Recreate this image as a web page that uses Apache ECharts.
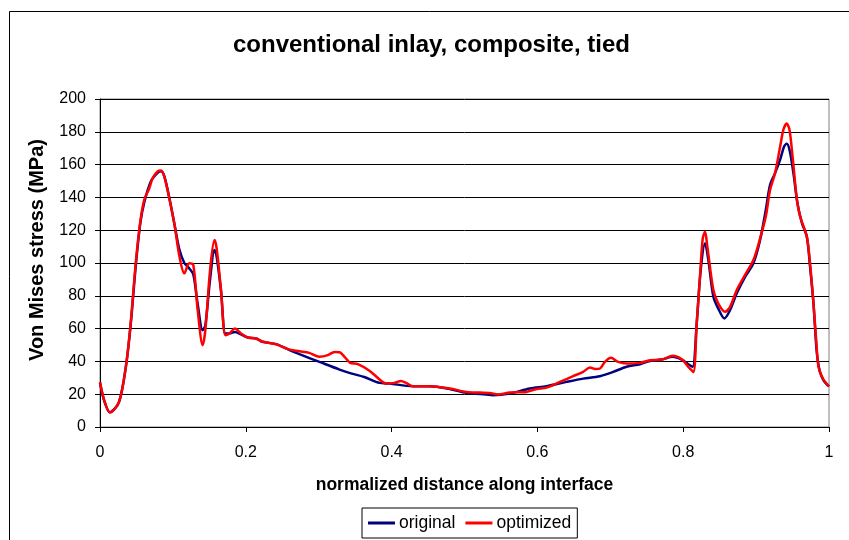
<!DOCTYPE html>
<html>
<head>
<meta charset="utf-8">
<script src="https://cdn.jsdelivr.net/npm/echarts@6/dist/echarts.min.js"></script>
<style>
  html, body { margin: 0; padding: 0; background: #fff; }
  #main { width: 849px; height: 540px; }
</style>
</head>
<body>
<div id="main"></div>
<script>
// data
var origDist = [0, 0.0058, 0.0136, 0.026, 0.0355, 0.042, 0.049, 0.0552, 0.0607, 0.07, 0.079, 0.0836, 0.0882, 0.095, 0.102, 0.109, 0.1157, 0.1225, 0.128, 0.134, 0.1408, 0.1445, 0.151, 0.157, 0.160, 0.166, 0.172, 0.1775, 0.185, 0.1935, 0.2026, 0.214, 0.223, 0.2416, 0.26, 0.2736, 0.301, 0.3286, 0.342, 0.3626, 0.3835, 0.397, 0.429, 0.452, 0.4797, 0.5026, 0.53, 0.539, 0.562, 0.5896, 0.6125, 0.64, 0.6628, 0.6857, 0.704, 0.7224, 0.7407, 0.7544, 0.7704, 0.7856, 0.798, 0.807, 0.8129, 0.8185, 0.824, 0.83, 0.8345, 0.8414, 0.848, 0.8565, 0.8643, 0.8735, 0.8849, 0.8963, 0.9055, 0.9133, 0.9192, 0.926, 0.933, 0.9384, 0.942, 0.9458, 0.9512, 0.9567, 0.963, 0.9696, 0.974, 0.9787, 0.983, 0.987, 0.9925, 1.0];
var origStress = [27, 16, 9, 15, 37, 62, 98, 124, 137, 150, 155, 156, 153, 140, 124, 108, 100, 96.7, 93, 75, 59, 62, 90, 108, 104, 83, 57, 57, 58, 56.5, 54.6, 54, 52, 50.5, 46.9, 44.4, 39.7, 35, 33, 30.5, 26.9, 26.5, 24.9, 24.9, 23.2, 20.8, 19.8, 19.4, 20.4, 23.5, 24.9, 27.5, 29.5, 31, 33.6, 36.7, 38.3, 40.3, 41.1, 42.8, 41.1, 38.3, 36.7, 63, 95.7, 112, 101.8, 79.4, 72.3, 66.2, 71.3, 81.5, 91.6, 99.8, 114, 132.4, 147.7, 154.8, 163, 171, 172.7, 169, 154.8, 136.5, 124.2, 116, 97.8, 75.4, 46.8, 34.6, 28.5, 24.8];

var optDist = [0, 0.0058, 0.0136, 0.026, 0.0355, 0.042, 0.049, 0.0552, 0.0607, 0.0676, 0.0722, 0.079, 0.0836, 0.0882, 0.095, 0.102, 0.109, 0.1157, 0.1225, 0.128, 0.134, 0.1408, 0.1445, 0.151, 0.157, 0.160, 0.166, 0.172, 0.1775, 0.185, 0.1935, 0.2026, 0.214, 0.223, 0.2416, 0.2576, 0.2736, 0.287, 0.301, 0.3125, 0.3217, 0.3286, 0.3354, 0.3432, 0.3537, 0.37, 0.3835, 0.3927, 0.404, 0.413, 0.42, 0.429, 0.452, 0.4797, 0.5026, 0.521, 0.5346, 0.546, 0.562, 0.585, 0.5988, 0.6125, 0.6308, 0.649, 0.6628, 0.672, 0.679, 0.6857, 0.6926, 0.7008, 0.7108, 0.7224, 0.7407, 0.7544, 0.7704, 0.7856, 0.798, 0.807, 0.8139, 0.8185, 0.823, 0.8268, 0.83, 0.8331, 0.8414, 0.848, 0.8574, 0.8643, 0.8735, 0.8849, 0.8963, 0.9055, 0.9133, 0.9192, 0.926, 0.933, 0.9375, 0.942, 0.9458, 0.950, 0.956, 0.9604, 0.9696, 0.974, 0.9787, 0.9824, 0.9856, 0.9916, 1.0];
var optStress = [27.5, 16.3, 8.8, 15.3, 36.7, 63, 100, 125, 138.5, 145.6, 151.7, 155.8, 156.4, 152.7, 139.5, 124, 103.9, 93.7, 99.8, 98.8, 71.3, 49.9, 59, 95.7, 114, 109, 83.5, 56, 57, 60, 57, 54.6, 54, 52, 50.5, 47.5, 46.2, 45.2, 42.8, 43.8, 45.8, 45.6, 42.8, 39.1, 38.3, 34.2, 29, 26.5, 26.9, 28.1, 26.9, 24.9, 24.9, 23.5, 21.4, 21, 20.8, 19.8, 21, 21.4, 23.2, 24, 27.5, 31, 33.6, 36.3, 35.4, 35.6, 39.7, 42.2, 39.7, 38.7, 39.1, 40.7, 41.1, 43.4, 41.3, 36.7, 33.6, 63, 91.6, 115, 119, 110, 83.5, 75.4, 70.3, 73.3, 83.5, 92.7, 101.8, 115, 128.3, 144.6, 154.8, 171, 181.3, 185, 181.3, 165, 138.5, 128.3, 116, 99.8, 75.4, 53, 36.7, 29.5, 24.8];

var seriesNames = ['original', 'optimized'];
var seriesColors = ['#000080', '#ff0000'];

function pairs(xs, ys) {
  var out = [];
  for (var i = 0; i < xs.length; i++) out.push([xs[i], ys[i]]);
  return out;
}

var chart = echarts.init(document.getElementById('main'));
var font = 'Liberation Sans, Arial, sans-serif';

var option = {
  backgroundColor: '#fff',
  animation: false,
  title: {
    text: 'conventional inlay, composite, tied',
    left: 233,
    top: 33,
    padding: 0,
    textStyle: { fontFamily: font, fontSize: 24, fontWeight: 'bold', color: '#000' }
  },
  graphic: [{
    type: 'rect',
    shape: { x: 9.5, y: 11.5, width: 900, height: 600 },
    style: { fill: 'none', stroke: '#000', lineWidth: 1 },
    silent: true
  }],
  legend: {
    left: 362,
    top: 508,
    padding: [6, 6, 6, 6],
    itemGap: 10,
    itemWidth: 27,
    itemHeight: 3,
    icon: 'rect',
    borderColor: '#000',
    borderWidth: 1,
    textStyle: { fontFamily: font, fontSize: 17.5, color: '#000', padding: [0, 0, 0, -1] },
    data: seriesNames
  },
  grid: {
    left: 100, right: 20, top: 99, bottom: 113,
    show: true, borderColor: '#808080', borderWidth: 1
  },
  xAxis: {
    type: 'value',
    min: 0, max: 1, interval: 0.2,
    name: 'normalized distance along interface',
    nameLocation: 'middle',
    nameGap: 49,
    nameTextStyle: { fontFamily: font, fontSize: 17.5, fontWeight: 'bold', color: '#000' },
    axisLine: { lineStyle: { color: '#000', width: 1 } },
    axisTick: { show: true, length: 5, lineStyle: { color: '#000' } },
    axisLabel: { fontFamily: font, fontSize: 16, color: '#000', margin: 18,
      formatter: function (v) { return String(Math.round(v * 10) / 10); } },
    splitLine: { show: false }
  },
  yAxis: {
    type: 'value',
    min: 0, max: 200, interval: 20,
    name: 'Von Mises stress (MPa)',
    nameLocation: 'middle',
    nameGap: 53,
    nameTextStyle: { fontFamily: font, fontSize: 20, fontWeight: 'bold', color: '#000', padding: [0, 0, 0, 26] },
    axisLine: { show: true, lineStyle: { color: '#000', width: 1 } },
    axisTick: { show: true, length: 5, lineStyle: { color: '#000' } },
    axisLabel: { fontFamily: font, fontSize: 16, color: '#000', margin: 14 },
    splitLine: { show: true, lineStyle: { color: '#000', width: 1 } }
  },
  series: [
    {
      name: seriesNames[0],
      type: 'line',
      data: pairs(origDist, origStress),
      smooth: 0.3,
      symbol: 'none',
      lineStyle: { color: seriesColors[0], width: 2.5 },
      itemStyle: { color: seriesColors[0] },
      z: 2
    },
    {
      name: seriesNames[1],
      type: 'line',
      data: pairs(optDist, optStress),
      smooth: 0.3,
      symbol: 'none',
      lineStyle: { color: seriesColors[1], width: 2.5 },
      itemStyle: { color: seriesColors[1] },
      z: 3
    }
  ]
};
chart.setOption(option);
</script>
</body>
</html>
